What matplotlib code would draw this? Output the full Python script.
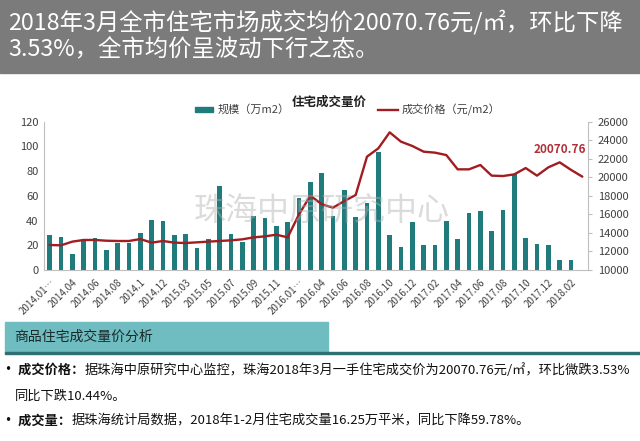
import numpy as np
import matplotlib.pyplot as plt
from matplotlib.patches import Rectangle
from matplotlib.lines import Line2D

plt.rcParams['font.family'] = ['Noto Sans CJK SC', 'DejaVu Sans']

# 月份（2014/2015/2016 的 1-2 月合并）
months = ['2014.01-02', '2014.03', '2014.04', '2014.05', '2014.06', '2014.07', '2014.08', '2014.09',
          '2014.1', '2014.11', '2014.12', '2015.01-02', '2015.03', '2015.04', '2015.05', '2015.06',
          '2015.07', '2015.08', '2015.09', '2015.10', '2015.11', '2015.12', '2016.01-02', '2016.03',
          '2016.04', '2016.05', '2016.06', '2016.07', '2016.08', '2016.09', '2016.10', '2016.11',
          '2016.12', '2017.01', '2017.02', '2017.03', '2017.04', '2017.05', '2017.06', '2017.07',
          '2017.08', '2017.09', '2017.10', '2017.11', '2017.12', '2018.01', '2018.02', '2018.03']

# 规模（万m2），2018.03 无数据
volume = [28, 27, 13, 23.5, 26, 16, 22, 22, 30, 40.5,
          39.5, 28, 29, 18, 25, 68, 29, 23, 44, 42,
          36, 38.5, 58, 71, 78.5, 43.5, 65, 42.5, 54, 95.5,
          28, 19, 38.5, 20, 20, 40, 25, 46, 48, 31.5,
          48.5, 77.5, 25.5, 21, 20.5, 7.8, 7.8, np.nan]

# 成交价格（元/m2）
price = [12700, 12660, 13060, 13240, 13240, 13160, 13130, 13130, 13340, 12950,
         13130, 12950, 12910, 12985, 13060, 13130, 13200, 13310, 13520, 13630,
         13810, 13520, 16000, 18020, 17100, 16720, 17440, 18090, 22230, 23125,
         24850, 23845, 23380, 22765, 22660, 22400, 20860, 20860, 21330, 20180,
         20140, 20320, 21000, 20180, 21075, 21615, 20805, 20070.76]

left_ticks = [0, 20, 40, 60, 80, 100, 120]
right_ticks = [10000, 12000, 14000, 16000, 18000, 20000, 22000, 24000, 26000]

W, H = 640, 441
def fx(px):
    return px / W
def fy(py):
    return 1 - py / H

fig = plt.figure(figsize=(6.4, 4.41), dpi=100)

# 顶部标题栏
fig.patches.append(Rectangle((0, fy(73)), 1, 73 / H, transform=fig.transFigure,
                             color='#7b7b7b', zorder=0))
fig.text(fx(8), fy(22), '2018年3月全市住宅市场成交均价20070.76元/㎡，环比下降',
         color='white', fontsize=16.8, va='center')
fig.text(fx(8), fy(50), '3.53%，全市均价呈波动下行之态。',
         color='white', fontsize=16.8, va='center')

# 图表
ax = fig.add_axes([fx(44), fy(270), (588 - 44) / W, (270 - 121.7) / H])
x = np.arange(len(months))
ax.bar(x, volume, width=0.42, color='#1f7b7c')
ax.set_xlim(-0.5, len(months) - 0.5)
ax.set_ylim(0, 120)
ax.set_yticks(left_ticks)
labels = [m if len(m) <= 7 else m[:7] + '…' for m in months]
ax.set_xticks(x[::2])
ax.set_xticklabels(labels[::2], rotation=45, ha='right', va='top',
                   rotation_mode='anchor', fontsize=7, color='#404040')
ax.tick_params(axis='x', length=0, pad=5)
ax.tick_params(axis='y', length=0, labelsize=8, labelcolor='#404040', pad=4)
for s in ['top', 'right']:
    ax.spines[s].set_visible(False)
for s in ['left', 'bottom']:
    ax.spines[s].set_color('#bfbfbf')

ax2 = ax.twinx()
ax2.plot(x, price, color='#a11d21', lw=1.7, solid_joinstyle='round', solid_capstyle='round')
ax2.set_ylim(10000, 26000)
ax2.set_yticks(right_ticks)
ax2.tick_params(axis='y', length=3, color='#bfbfbf', labelsize=8, labelcolor='#404040', pad=4)
for s in ['top', 'left', 'bottom']:
    ax2.spines[s].set_visible(False)
ax2.spines['right'].set_color('#bfbfbf')
ax2.annotate(f'{price[-1]:.2f}', xy=(x[-1], price[-1]), xytext=(-22, 27),
             textcoords='offset pixels', ha='center', va='center',
             fontsize=8.5, fontweight='bold', color='#b0303a')

# 标题和图例
fig.text(fx(329), fy(102), '住宅成交量价', fontsize=9, fontweight='bold',
         ha='center', va='center', color='#202020')
fig.patches.append(Rectangle((fx(195), fy(112)), fx(213) - fx(195), 5 / H,
                             transform=fig.transFigure, color='#1f7b7c'))
fig.text(fx(218), fy(109), '规模（万m2）', fontsize=8, va='center', color='#404040')
fig.lines.append(Line2D([fx(378), fx(398)], [fy(110), fy(110)], transform=fig.transFigure,
                        color='#a11d21', lw=1.7))
fig.text(fx(402), fy(110), '成交价格（元/m2）', fontsize=8, va='center', color='#404040')

# 水印
fig.text(fx(322), fy(211), '珠海中原研究中心', fontsize=23, color='#b0b0b0',
         alpha=0.45, ha='center', va='center', zorder=10)

# 分析栏
fig.patches.append(Rectangle((fx(5), fy(352)), fx(328) - fx(5), 30 / H,
                             transform=fig.transFigure, color='#70bdc1', zorder=0))
fig.patches.append(Rectangle((fx(5), fy(354)), 1 - fx(5), 2.5 / H,
                             transform=fig.transFigure, color='#2e6f72', zorder=0))
fig.text(fx(14), fy(337), '商品住宅成交量价分析', fontsize=10, va='center', color='#1a2a2a')

def para(px, py, bold, rest):
    t = fig.text(fx(px), fy(py), bold, fontsize=9.5, fontweight='bold', va='center', color='#111111')
    if rest:
        ax.annotate(rest, xy=(1, 0), xycoords=t, ha='left', va='bottom',
                    fontsize=9.5, color='#111111', annotation_clip=False)

para(2, 370, '• 成交价格：', '据珠海中原研究中心监控，珠海2018年3月一手住宅成交价为20070.76元/㎡，环比微跌3.53%')
fig.text(fx(15), fy(396), '同比下跌10.44%。', fontsize=9.5, va='center', color='#111111')
para(2, 421, '• 成交量：', '据珠海统计局数据，2018年1-2月住宅成交量16.25万平米，同比下降59.78%。')

fig.savefig('out.png', dpi=100)
